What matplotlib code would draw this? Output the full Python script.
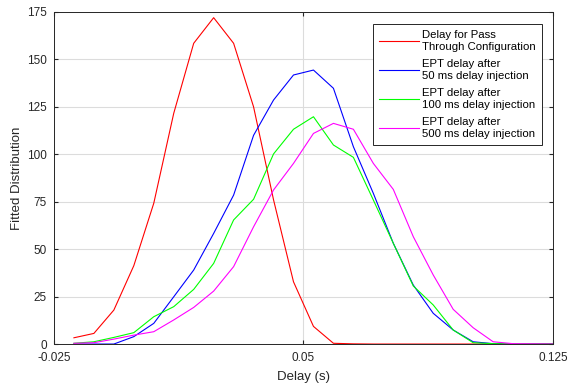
import numpy as np
import matplotlib
matplotlib.use("Agg")
import matplotlib.pyplot as plt

plt.rcParams['font.family'] = ['Liberation Sans', 'DejaVu Sans']

# ---------- data ----------
delay = [-0.019, -0.013, -0.007, -0.001, 0.005, 0.011, 0.017, 0.023, 0.029,
         0.035, 0.041, 0.047, 0.053, 0.059, 0.065, 0.071, 0.077, 0.083,
         0.089, 0.095, 0.101, 0.107, 0.113, 0.119, 0.125]

pass_through = [3.3, 5.6, 17.9, 41.3, 74.2, 121.6, 158.5, 172.0, 158.5, 125.0,
                76.0, 32.8, 9.3, 0.4, 0.1, 0, 0, 0, 0, 0, 0, 0, 0, 0, 0]
ept_50 = [0, 0, 0, 3.9, 10.9, 24.9, 39.0, 58.3, 78.5, 110.0, 128.6, 141.8,
          144.4, 134.8, 104.0, 79.4, 53.1, 31.1, 16.2, 7.4, 1.2, 0.2, 0, 0, 0]
ept_100 = [0.4, 1.2, 3.5, 6.0, 14.4, 19.7, 28.8, 42.5, 65.4, 76.3, 100.2, 113.2,
           119.8, 104.9, 98.4, 75.9, 53.1, 30.6, 20.6, 7.4, 0.7, 0.2, 0.1, 0, 0]
ept_500 = [0.4, 0.7, 2.6, 4.7, 6.5, 12.7, 19.3, 27.9, 40.8, 61.8, 81.2, 95.2,
           111.0, 116.3, 113.2, 95.2, 81.5, 56.6, 36.4, 18.3, 8.6, 1.2, 0.2, 0.1, 0]

labels = ["Delay for Pass\nThrough Configuration",
          "EPT delay after\n50 ms delay injection",
          "EPT delay after\n100 ms delay injection",
          "EPT delay after\n500 ms delay injection"]

xticks = [-0.025, 0.05, 0.125]
xtick_labels = ["-0.025", "0.05", "0.125"]
yticks = [0, 25, 50, 75, 100, 125, 150, 175]

# ---------- plot ----------
fig = plt.figure(figsize=(5.68, 3.87), dpi=100)
ax = fig.add_axes([0.095, 0.111, 0.8786, 0.858])

series = [pass_through, ept_50, ept_100, ept_500]
colors = ["#ff0000", "#0000ff", "#00ff00", "#ff00ff"]
for ys, c, lab in zip(series, colors, labels):
    ax.plot(delay, ys, color=c, lw=0.8, label=lab)

ax.set_xlim(-0.025, 0.125)
ax.set_ylim(0, 175)
ax.set_xticks(xticks)
ax.set_xticklabels(xtick_labels)
ax.set_yticks(yticks)

ax.grid(True, color="#dcdcdc", lw=0.8)
ax.set_axisbelow(True)
ax.tick_params(direction="in", top=True, right=True, length=3,
               labelsize=8.5, color="#262626", labelcolor="#262626")
ax.tick_params(axis="x", pad=6)
ax.tick_params(axis="y", pad=5)
for s in ax.spines.values():
    s.set_color("#262626")
    s.set_linewidth(0.7)

ax.set_xlabel("Delay (s)", fontsize=9.5, color="#262626", labelpad=5)
ax.set_ylabel("Fitted Distribution", fontsize=9.5, color="#262626", labelpad=3)

# legend box in the reference spans roughly x 376-542 px, y 24-152 px
leg = ax.legend(loc="upper right", bbox_to_anchor=(0.978, 0.964), fontsize=8.2,
                fancybox=False, framealpha=1, edgecolor="#262626",
                handlelength=3.5, handletextpad=0.3, borderpad=0.55,
                labelspacing=0.65, borderaxespad=0)
leg.get_frame().set_linewidth(0.7)

fig.savefig("out.png", dpi=100)
